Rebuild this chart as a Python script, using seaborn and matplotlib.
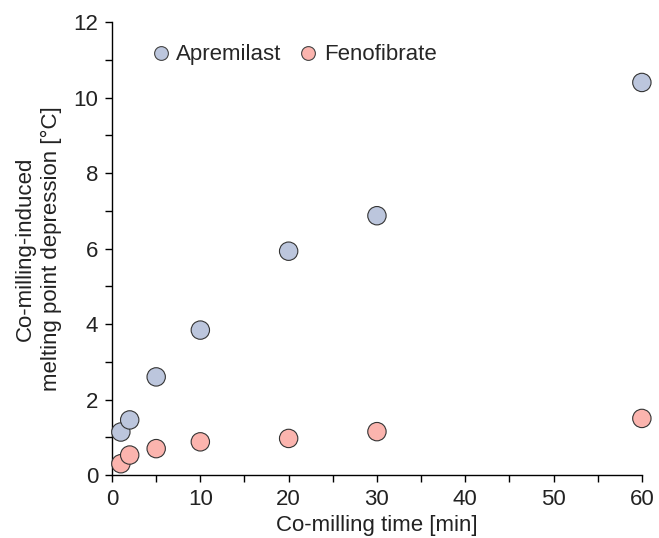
import pandas as pd
import matplotlib.pyplot as plt
import seaborn as sns
from matplotlib.ticker import MultipleLocator

sns.set_style("ticks")
plt.rcParams['font.family'] = ['Liberation Sans', 'DejaVu Sans']

time_min = [1, 2, 5, 10, 20, 30, 60]
apremilast = [1.14, 1.46, 2.60, 3.84, 5.93, 6.87, 10.40]
fenofibrate = [0.30, 0.53, 0.70, 0.88, 0.97, 1.15, 1.50]

df = pd.DataFrame({
    "time": time_min * 2,
    "depression": apremilast + fenofibrate,
    "drug": ["Apremilast"] * len(time_min) + ["Fenofibrate"] * len(time_min),
})

palette = {"Apremilast": "#bcc6dd", "Fenofibrate": "#fbb4ae"}

fig = plt.figure(figsize=(6.59, 5.38), dpi=100)
ax = fig.add_axes([0.170, 0.117, 0.804, 0.842])
sns.scatterplot(data=df, x="time", y="depression", hue="drug", palette=palette,
                s=175, edgecolor="#333333", linewidth=0.8, ax=ax, clip_on=False,
                zorder=3)

ax.set_xlim(0, 60)
ax.set_ylim(0, 12)
ax.xaxis.set_major_locator(MultipleLocator(10))
ax.xaxis.set_minor_locator(MultipleLocator(5))
ax.yaxis.set_major_locator(MultipleLocator(2))
ax.yaxis.set_minor_locator(MultipleLocator(1))
ax.tick_params(which="both", direction="out", length=5, width=1, color="black",
               labelsize=16, labelcolor="#222222", pad=5)
for s in ["top", "right"]:
    ax.spines[s].set_visible(False)
for s in ["left", "bottom"]:
    ax.spines[s].set_color("black")
    ax.spines[s].set_linewidth(1)

ax.set_xlabel("Co-milling time [min]", fontsize=16, color="#222222", labelpad=4)
ax.set_ylabel("Co-milling-induced\nmelting point depression [°C]", fontsize=16,
              color="#222222", labelpad=8, linespacing=1.3)

leg = ax.legend(loc="upper left", bbox_to_anchor=(0.012, 0.995), ncol=2, frameon=False,
                fontsize=16, handletextpad=-0.3, columnspacing=0.2, markerscale=0.75,
                title=None)
for h in leg.legend_handles:
    h.set_markeredgecolor("#444444")

fig.savefig("out.png", dpi=100)
